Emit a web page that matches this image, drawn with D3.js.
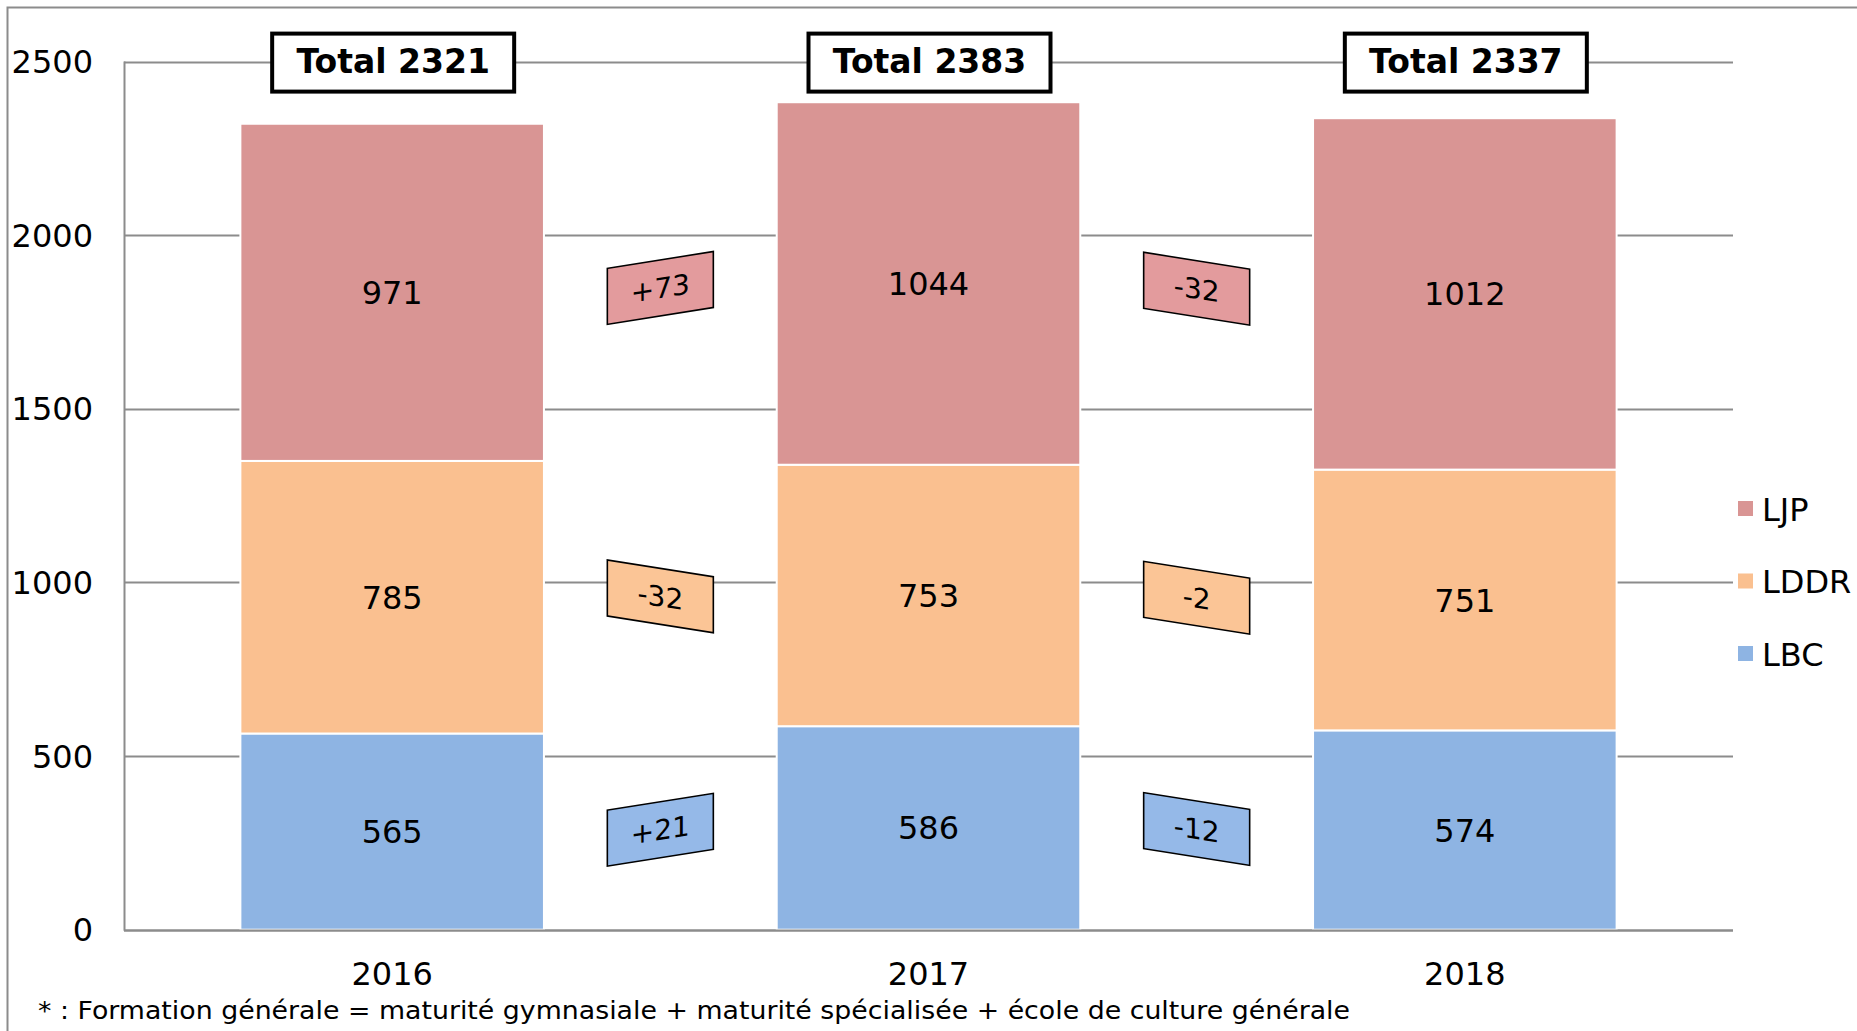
<!DOCTYPE html>
<html>
<head>
<meta charset="utf-8">
<script src="https://cdnjs.cloudflare.com/ajax/libs/d3/7.8.5/d3.min.js"></script>
<style>
    body { margin: 0; background: white; }
    svg { display: block; font-family: Verdana, "DejaVu Sans", sans-serif; }
</style>
</head>
<body>
<div id="chart"></div>
<script>
// chart data
var years = ['2016', '2017', '2018'];
var seriesNames = ['LBC', 'LDDR', 'LJP'];
var lbc = [565, 586, 574];
var lddr = [785, 753, 751];
var ljp = [971, 1044, 1012];
var yTicks = [0, 500, 1000, 1500, 2000, 2500];
var footnote = '* : Formation générale = maturité gymnasiale + maturité spécialisée + école de culture générale';

var width = 1857,
    height = 1031;

var colors = {LBC: '#8eb4e3', LDDR: '#fac090', LJP: '#d99594'},
    deltaColors = {LBC: '#95b9e8', LDDR: '#fbc596', LJP: '#e39b9d'};

var svg = d3.select('#chart').append('svg')
    .attr('width', width)
    .attr('height', height);

// outer chart border (only top & left visible)
svg.append('rect')
    .attr('x', 7.5).attr('y', 7.5)
    .attr('width', width + 20).attr('height', height + 20)
    .attr('fill', 'none')
    .attr('stroke', '#8c8c8c')
    .attr('stroke-width', 2);

// scales
var x = d3.scaleBand()
    .domain(years)
    .range([124, 1733])
    .paddingInner(0.434)
    .paddingOuter(0.217);

var y = d3.scaleLinear()
    .domain([0, 2500])
    .range([929.7, 61.6]);

// stack data
var table = years.map(function (yr, i) {
    return {year: yr, LBC: lbc[i], LDDR: lddr[i], LJP: ljp[i]};
});
var stacked = d3.stack().keys(seriesNames)(table);

// gridlines
svg.append('g')
    .selectAll('line')
    .data(yTicks)
    .enter()
    .append('line')
    .attr('x1', 124).attr('x2', 1733)
    .attr('y1', function (d) { return Math.round(y(d)) + 0.5; })
    .attr('y2', function (d) { return Math.round(y(d)) + 0.5; })
    .attr('stroke', '#8c8c8c')
    .attr('stroke-width', 2);

// y axis line
svg.append('line')
    .attr('x1', 124.5).attr('x2', 124.5)
    .attr('y1', y(2500)).attr('y2', y(0) + 1)
    .attr('stroke', '#8c8c8c')
    .attr('stroke-width', 2);

// y tick labels
svg.append('g')
    .selectAll('text')
    .data(yTicks)
    .enter()
    .append('text')
    .attr('x', 93)
    .attr('y', function (d) { return y(d); })
    .attr('dy', '0.36em')
    .attr('text-anchor', 'end')
    .attr('font-size', 32)
    .text(function (d) { return d; });

// bars
var layers = svg.append('g')
    .selectAll('g')
    .data(stacked)
    .enter()
    .append('g')
    .attr('fill', function (d) { return colors[d.key]; });

layers.selectAll('rect')
    .data(function (d) { return d; })
    .enter()
    .append('rect')
    .attr('x', function (d) { return x(d.data.year); })
    .attr('y', function (d) { return y(d[1]); })
    .attr('width', x.bandwidth())
    .attr('height', function (d) { return y(d[0]) - y(d[1]); })
    .attr('stroke', 'white')
    .attr('stroke-width', 2);

// value labels
layers.selectAll('text')
    .data(function (d) { return d; })
    .enter()
    .append('text')
    .attr('x', function (d) { return x(d.data.year) + x.bandwidth() / 2; })
    .attr('y', function (d) { return y((d[0] + d[1]) / 2); })
    .attr('dy', '0.36em')
    .attr('text-anchor', 'middle')
    .attr('font-size', 32)
    .attr('fill', 'black')
    .text(function (d) { return d[1] - d[0]; });

// x axis line
svg.append('line')
    .attr('x1', 124).attr('x2', 1733)
    .attr('y1', Math.round(y(0)) + 0.5).attr('y2', Math.round(y(0)) + 0.5)
    .attr('stroke', '#8c8c8c')
    .attr('stroke-width', 2);

// year labels
svg.append('g')
    .selectAll('text')
    .data(years)
    .enter()
    .append('text')
    .attr('x', function (d) { return x(d) + x.bandwidth() / 2; })
    .attr('y', 985)
    .attr('text-anchor', 'middle')
    .attr('font-size', 32)
    .text(function (d) { return d; });

// total boxes
var totals = svg.append('g')
    .selectAll('g')
    .data(table)
    .enter()
    .append('g')
    .attr('transform', function (d) {
        return 'translate(' + (x(d.year) + x.bandwidth() / 2 + 1) + ',' + y(2500) + ')';
    });

totals.append('rect')
    .attr('x', -121).attr('y', -28)
    .attr('width', 242).attr('height', 58)
    .attr('fill', 'white')
    .attr('stroke', 'black')
    .attr('stroke-width', 4);

totals.append('text')
    .attr('dy', '0.36em')
    .attr('text-anchor', 'middle')
    .attr('font-size', 33)
    .attr('font-weight', 'bold')
    .text(function (d) { return 'Total ' + (d.LBC + d.LDDR + d.LJP); });

// year-on-year change labels
var deltas = [];
stacked.forEach(function (layer) {
    for (var i = 0; i < layer.length - 1; i++) {
        var a = layer[i], b = layer[i + 1];
        deltas.push({
            key: layer.key,
            value: (b[1] - b[0]) - (a[1] - a[0]),
            cx: (x(a.data.year) + x(b.data.year)) / 2 + x.bandwidth() / 2,
            cy: y(((a[0] + a[1]) / 2 + (b[0] + b[1]) / 2) / 2)
        });
    }
});

var dw = 106, dh = 56;
var deltaG = svg.append('g')
    .selectAll('g')
    .data(deltas)
    .enter()
    .append('g')
    .attr('transform', function (d) {
        var ang = d.value > 0 ? -9 : 9;
        return 'translate(' + d.cx + ',' + d.cy + ') skewY(' + ang + ')';
    });

deltaG.append('rect')
    .attr('x', -dw / 2).attr('y', -dh / 2)
    .attr('width', dw).attr('height', dh)
    .attr('fill', function (d) { return deltaColors[d.key]; })
    .attr('stroke', 'black')
    .attr('stroke-width', 1.6);

deltaG.append('text')
    .attr('dy', '0.36em')
    .attr('text-anchor', 'middle')
    .attr('font-size', 28)
    .text(function (d) { return (d.value > 0 ? '+' : '') + d.value; });

// legend
var legendItems = seriesNames.slice().reverse();
var legend = svg.append('g')
    .selectAll('g')
    .data(legendItems)
    .enter()
    .append('g')
    .attr('transform', function (d, i) { return 'translate(1738,' + (509 + i * 72.5) + ')'; });

legend.append('rect')
    .attr('x', 0).attr('y', -8)
    .attr('width', 15).attr('height', 15)
    .attr('fill', function (d) { return colors[d]; });

legend.append('text')
    .attr('x', 24)
    .attr('dy', '0.36em')
    .attr('font-size', 32)
    .text(function (d) { return d; });

// footnote
svg.append('text')
    .attr('x', 38)
    .attr('y', 1019)
    .attr('font-size', 25)
    .attr('textLength', 1312)
    .attr('lengthAdjust', 'spacingAndGlyphs')
    .text(footnote);
</script>
</body>
</html>
